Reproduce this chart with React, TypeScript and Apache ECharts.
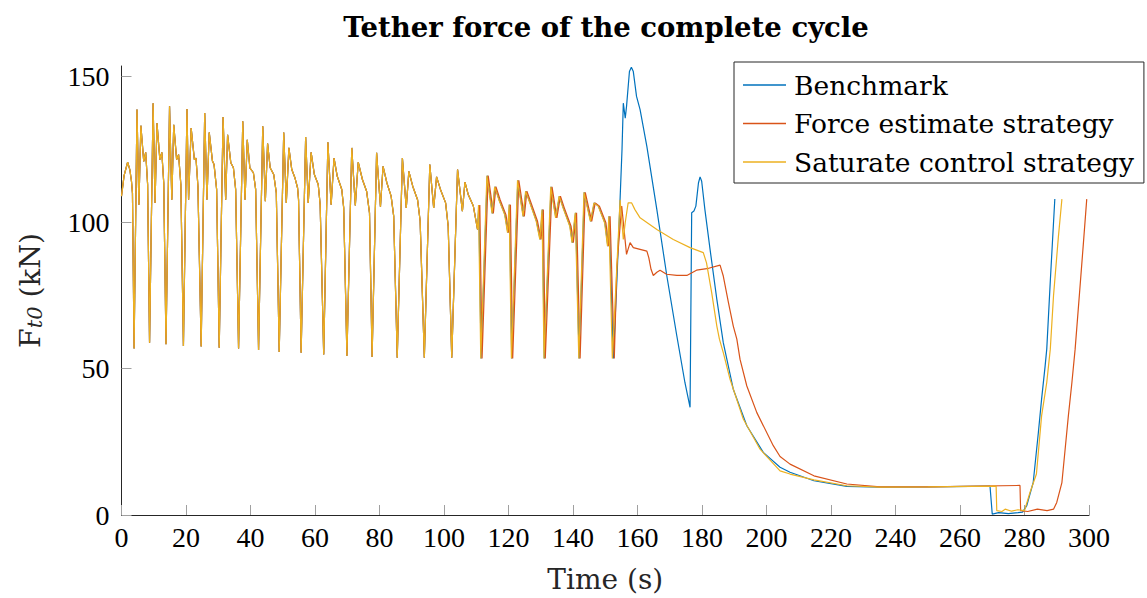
import React, { useEffect, useRef } from "react";
import * as echarts from "echarts";

// Oscillating phase (practically identical for all three strategies): [time s, force kN]
const sharedCycles: [number, number][] = [
  [0, 109], [0.8, 116], [1.9, 120.6], [2.6, 118], [3.1, 114], [3.4, 110], [3.9, 56.9],
  [4.8, 138.6], [5.4, 106.1], [6.0, 133.1], [6.9, 120.9], [7.5, 124], [8.1, 113], [8.7, 58.9],
  [9.8, 140.8], [10.4, 106.7], [11.0, 134], [11.9, 121.5], [12.5, 124], [13.1, 113.5], [13.8, 58.4],
  [14.9, 139.7], [15.6, 107.8], [16.2, 133.4], [17.1, 121.5], [17.7, 123.2], [18.4, 113], [19.2, 57.8],
  [20.3, 138.8], [20.8, 107.8], [21.6, 132.3], [22.6, 121.5], [23.1, 122], [23.7, 112.4], [24.7, 57.6],
  [25.8, 137.4], [26.5, 107.8], [27.2, 130.8], [28.2, 121], [28.7, 119.8], [29.5, 111.3], [30.3, 57.2],
  [31.5, 136.1], [32.3, 107.8], [32.9, 130], [33.9, 120.4], [34.7, 118.7], [35.4, 111.3], [36.3, 56.9],
  [37.6, 134.6], [38.3, 107.8], [39.0, 128.3], [39.8, 118.7], [40.9, 117], [41.6, 111.3], [42.5, 56.4],
  [43.8, 132.9], [44.6, 107.3], [45.3, 127], [46.1, 118.7], [47.2, 116.4], [48.0, 110.1], [48.9, 55.7],
  [50.3, 130.8], [51.1, 106.7], [51.9, 125.5], [52.8, 118.1], [53.8, 115.2], [54.6, 111.8], [54.9, 107.8], [55.7, 55.5],
  [57.1, 129.2], [57.9, 106.7], [58.8, 124], [59.8, 116.4], [61.0, 113], [61.6, 106.1], [62.7, 54.9],
  [64.0, 127.4], [65.0, 106.1], [65.9, 122], [66.9, 115.8], [68.3, 111.3], [68.9, 105], [69.9, 54.4],
  [71.4, 125.5], [72.5, 105.8], [73.4, 120.6], [74.7, 114.7], [76.0, 110.7], [76.9, 103.3], [77.7, 54],
  [79.1, 123.8], [80.3, 105.4], [81.1, 119.2], [82.3, 113.5], [83.6, 109], [84.4, 102.2], [85.5, 53.8],
  [87.1, 122], [88.3, 105], [89.1, 117.5], [90.3, 112.4], [91.8, 107.8], [92.6, 100.5], [93.9, 53.8],
  [95.6, 119.8], [96.8, 105], [97.7, 115.6], [98.9, 111.3], [100.5, 106.7], [101.3, 98.7], [102.4, 53.8],
  [104.2, 118.1], [105.7, 103.9], [106.5, 113.8], [107.5, 109.6], [109.1, 105.6], [110.4, 97.6],
];

// Last oscillation cycles, where the three strategies drift slightly apart in time
const benchmarkLateCycles: [number, number][] = [
  [110.8, 106], [111.5, 53.5], [113.4, 116], [115.0, 103.1], [115.8, 112.2], [117.1, 107.8], [118.9, 102.7],
  [119.8, 96.5], [120.3, 106.1], [121.0, 53.5], [122.9, 114.4], [124.6, 102.1], [125.4, 110.7], [126.7, 106.7],
  [128.7, 100.4], [129.8, 94.2], [130.5, 104.4], [131.1, 53.5], [133.2, 112.2], [134.7, 101.6], [135.8, 109],
  [137.0, 105], [139.1, 98.7], [139.8, 93.1], [140.8, 103.3], [141.9, 53.5], [143.5, 110.3], [145.5, 100.4],
  [146.6, 106.7], [147.9, 105.6], [149.9, 99.9], [150.8, 91.9], [151.2, 102.1], [152.5, 53.5],
];
const forceEstimateLateCycles: [number, number][] = [
  [111.1, 106], [111.8, 53.5], [113.7, 116], [115.3, 103.1], [116.1, 112.2], [117.4, 107.8], [119.2, 102.7],
  [120.1, 96.5], [120.6, 106.1], [121.3, 53.5], [123.2, 114.4], [124.9, 102.1], [125.7, 110.7], [127.0, 106.7],
  [129.0, 100.4], [130.1, 94.2], [130.8, 104.4], [131.4, 53.5], [133.5, 112.2], [135.0, 101.6], [136.1, 109],
  [137.3, 105], [139.4, 98.7], [140.1, 93.1], [141.1, 103.3], [142.2, 53.5], [143.8, 110.3], [145.8, 100.4],
  [146.9, 106.7], [148.2, 105.6], [150.2, 99.9], [151.1, 91.9], [151.5, 102.1], [152.8, 53.5],
];
const saturateLateCycles: [number, number][] = [
  [110.7, 106], [111.4, 53.5], [113.3, 116], [114.9, 103.1], [115.7, 112.2], [117.0, 107.8], [118.8, 102.7],
  [119.7, 96.5], [120.2, 106.1], [120.9, 53.5], [122.8, 114.4], [124.5, 102.1], [125.3, 110.7], [126.6, 106.7],
  [128.6, 100.4], [129.7, 94.2], [130.4, 104.4], [131.0, 53.5], [133.1, 112.2], [134.6, 101.6], [135.7, 109],
  [136.9, 105], [139.0, 98.7], [139.7, 93.1], [140.7, 103.3], [141.8, 53.5], [143.4, 110.3], [145.4, 100.4],
  [146.5, 106.7], [147.8, 105.6], [149.8, 99.9], [150.7, 91.9], [151.1, 102.1], [152.2, 53.5],
];

const benchmarkTail: [number, number][] = [
  [153.6, 80], [154.6, 108], [155.2, 125], [155.6, 140.8], [156.2, 135.7], [156.6, 139.7],
  [157.5, 151.6], [158.1, 153.1], [158.7, 151.6], [159.7, 143.1], [160.8, 138.6], [162.9, 126],
  [166.0, 104.4], [169.1, 81.7], [172.2, 61.2], [174.7, 45.3], [176.3, 36.8], [176.8, 103.3],
  [177.5, 103.9], [178.1, 105.6], [178.9, 113.5], [179.4, 115.6], [179.9, 114.1], [180.9, 104.4],
  [182.5, 90.8], [184.6, 73.7], [186.6, 58.9], [189.7, 43], [193.9, 30.5], [199.0, 21.4],
  [204.2, 16.3], [207.3, 14.6], [214.7, 11.7], [224.9, 9.8], [235.2, 9.5], [250, 9.6], [269.3, 9.9],
  [270.0, 0.3], [272, 0.8], [275, 0.5], [278, 0.8], [279.4, 1], [280.7, 3.2], [282.7, 11.1],
  [284.3, 28.2], [285.3, 39.6], [286.4, 51], [286.9, 56.7], [288, 80], [289.4, 108],
];

const forceEstimateTail: [number, number][] = [
  [153.6, 85], [155.1, 105.6], [156.6, 89.1], [157.7, 93.1], [158.7, 91.4], [160.8, 90.8],
  [162.9, 90.2], [163.5, 88], [164.2, 84], [164.9, 81.9], [166, 83], [167, 83.7], [169, 82.3],
  [172.2, 81.9], [175.3, 81.9], [178.3, 83.7], [181.5, 84.2], [185.6, 85.4], [186.6, 81.7],
  [188.2, 72.6], [189.7, 64.6], [190.8, 60.1], [191.8, 53.2], [193.9, 44.1], [197, 35],
  [202.1, 23.7], [204.2, 20], [207.3, 17.4], [214.7, 13.4], [224.9, 10.6], [235.2, 9.6],
  [250, 9.6], [278.6, 10.1], [278.8, 1.5], [281, 1.2], [284, 2], [287, 1.5], [289, 2],
  [290, 4.3], [291.6, 11.1], [292.6, 22.5], [293.6, 33.9], [294.7, 45.3], [295.7, 56.7],
  [297, 75], [298.2, 92], [299.3, 108],
];

const saturateTail: [number, number][] = [
  [153.6, 85], [154.6, 107.8], [155.6, 94.2], [156.2, 100], [157.1, 106.7], [158.2, 106.7],
  [159.2, 104.4], [160.8, 101.6], [166, 97.6], [171.1, 94.2], [176.3, 91.4], [180.4, 89.7],
  [181.4, 86.2], [183, 76], [184.6, 64.6], [185.4, 60.1], [186.6, 55.5], [188.7, 46.4],
  [192.8, 32.8], [198, 22.5], [204.2, 15.1], [207.3, 14], [214.7, 12], [224.9, 10],
  [235.2, 9.5], [250, 9.6], [271.2, 9.9], [271.4, 1.5], [273, 1.2], [274, 2], [276, 1.3],
  [278, 1.8], [280, 1.5], [281.7, 7.7], [283.7, 14], [285.3, 33.9], [286.9, 45.3],
  [288, 56.7], [289, 75], [290.5, 95], [291.6, 108],
];

const seriesNames = ["Benchmark", "Force estimate strategy", "Saturate control strategy"];
const seriesColors = ["#0072BD", "#D95319", "#EDB120"];
const yTicks = [0, 50, 100, 150];

const NUM_FONT = "'Liberation Serif', 'DejaVu Serif', serif";
const TEXT_FONT = "'DejaVu Serif', 'Liberation Serif', serif";

export default function App() {
  const ref = useRef<HTMLDivElement>(null);
  useEffect(() => {
    if (!ref.current) return;
    const chart = echarts.init(ref.current, null, { renderer: "svg" });
    const lateCycles = [benchmarkLateCycles, forceEstimateLateCycles, saturateLateCycles];
    const tails = [benchmarkTail, forceEstimateTail, saturateTail];
    chart.setOption({
      animation: false,
      backgroundColor: "#ffffff",
      textStyle: { fontFamily: TEXT_FONT },
      grid: { left: 121.5, right: 58, top: 66, bottom: 82 },
      graphic: [
        {
          type: "text",
          x: 606,
          y: 27,
          style: {
            text: "Tether force of the complete cycle",
            fontFamily: TEXT_FONT,
            fontWeight: "bold",
            fontSize: 27.5,
            fill: "#000",
            textAlign: "center",
            textVerticalAlign: "middle",
          },
        },
      ],
      legend: {
        orient: "vertical",
        left: 734,
        top: 62,
        backgroundColor: "#fff",
        borderColor: "#262626",
        borderWidth: 1,
        borderRadius: 0,
        padding: [8, 10, 6, 9],
        itemWidth: 43,
        itemHeight: 1.5,
        itemGap: 8.5,
        icon: "rect",
        data: seriesNames,
        textStyle: { fontFamily: TEXT_FONT, fontSize: 26.5, color: "#000", lineHeight: 30, padding: [0, 0, 0, 3] },
      },
      xAxis: {
        type: "value",
        min: 0,
        max: 300,
        interval: 20,
        name: "Time (s)",
        nameLocation: "middle",
        nameGap: 50,
        nameTextStyle: { fontFamily: TEXT_FONT, fontSize: 28, color: "#262626" },
        axisLine: { show: true, onZero: false, lineStyle: { color: "#262626", width: 1 } },
        axisTick: { show: true, inside: true, length: 10, lineStyle: { color: "#a0a0a0" } },
        axisLabel: { fontFamily: NUM_FONT, fontSize: 28, color: "#000", margin: 8 },
        splitLine: { show: false },
      },
      yAxis: {
        type: "value",
        min: 0,
        max: 153.5,
        interval: 50,
        name: "{a|F}{b|t0}{a| (kN)}",
        nameLocation: "middle",
        nameGap: 76,
        nameRotate: 90,
        nameTextStyle: {
          rich: {
            a: { fontFamily: TEXT_FONT, fontSize: 28.5, color: "#262626" },
            b: { fontFamily: TEXT_FONT, fontSize: 21, fontStyle: "italic", color: "#262626", verticalAlign: "bottom", padding: [9, 0, 0, 0] },
          },
        },
        axisLine: { show: true, lineStyle: { color: "#262626", width: 1 } },
        axisTick: { show: true, inside: true, length: 10, lineStyle: { color: "#a0a0a0" }, customValues: yTicks },
        axisLabel: { fontFamily: NUM_FONT, fontSize: 28, color: "#000", margin: 12, customValues: yTicks },
        splitLine: { show: false },
      },
      series: seriesNames.map((name, i) => ({
        name,
        type: "line",
        data: sharedCycles.concat(lateCycles[i], tails[i]),
        showSymbol: false,
        symbol: "none",
        color: seriesColors[i],
        lineStyle: { width: 1.2, color: seriesColors[i] },
        z: 2 + i,
      })),
    });
    return () => chart.dispose();
  }, []);
  return <div ref={ref} style={{ position: "fixed", left: 0, top: 0, width: 1147, height: 598 }} />;
}
